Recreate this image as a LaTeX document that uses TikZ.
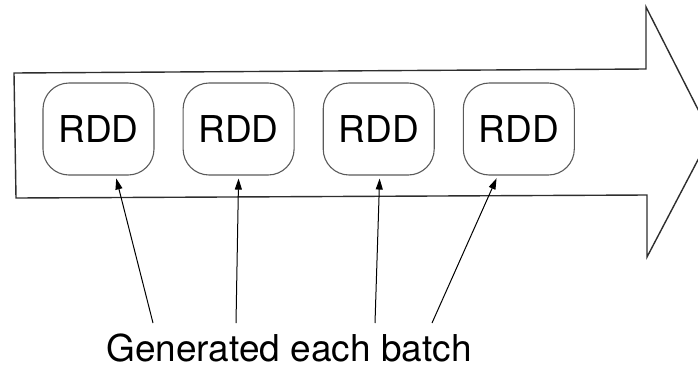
\documentclass[tikz,border=0pt]{standalone}
\usepackage{fontspec}
\setmainfont{TeX Gyre Heros}
\usetikzlibrary{arrows.meta,positioning}
\definecolor{streamGray}{HTML}{2E2E2E}
\definecolor{rddGray}{HTML}{5A5A5A}
\tikzset{
  stream arrow/.style={draw=streamGray, line width=1.4pt, line join=miter},
  rdd box/.style={draw=rddGray, line width=1.1pt, rounded corners=26pt,
    minimum width=111pt, minimum height=92pt, inner sep=0pt,
    font=\fontsize{37}{42}\selectfont},
  batch arrow/.style={-{Triangle[length=11pt,width=7pt]}, line width=1pt,
    draw=black, shorten >=3pt},
  batch label/.style={font=\fontsize{37}{42}\selectfont}
}

\begin{document}
\begin{tikzpicture}[x=1pt, y=-1pt, node distance=28pt]
  \useasboundingbox (0,0) rectangle (698,378);
  \clip (0,0) rectangle (698,378);
  % the stream, tip runs off the page
  \draw[stream arrow] (14,73) -- (646,69) -- (646,7) -- (711,135)
    -- (647,257) -- (647,195) -- (16,198) -- cycle;
  \node[rdd box] (rdd1) at (98.5,129) {RDD};
  \node[rdd box, right=of rdd1] (rdd2) {RDD};
  \node[rdd box, right=of rdd2] (rdd3) {RDD};
  \node[rdd box, right=of rdd3] (rdd4) {RDD};
  \node[batch label, anchor=base] (batch) at (289,361) {Generated each batch};
  \coordinate (tail1) at (153,323);
  \coordinate (tail2) at (236,323);
  \coordinate (tail3) at (375,323);
  \coordinate (tail4) at (432,323);
  \draw[batch arrow] (tail1) -- ([xshift=17pt]rdd1.south);
  \draw[batch arrow] (tail2) -- (rdd2.south);
  \draw[batch arrow] (tail3) -- ([xshift=1pt]rdd3.south);
  \draw[batch arrow] (tail4) -- ([xshift=-21pt]rdd4.south);
\end{tikzpicture}
\end{document}
